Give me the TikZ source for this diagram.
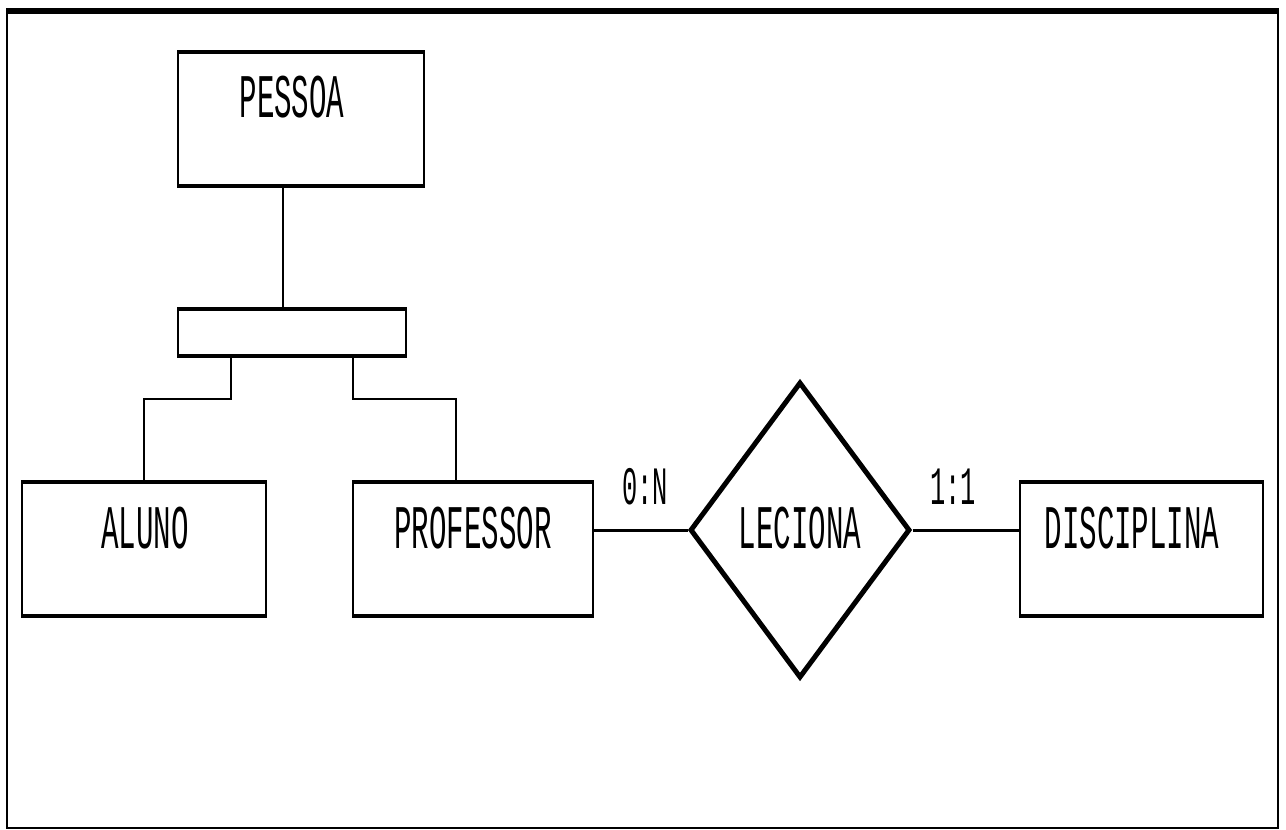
\documentclass[tikz,border=0pt]{standalone}
\usepackage{fontspec}
\newfontfamily\pixfont{Liberation Mono}
\usetikzlibrary{shapes.geometric,calc}
\tikzset{
  ent/.style={draw, line width=2pt, inner sep=0pt},
  lab/.style={inner sep=0pt, font=\pixfont\fontsize{62}{62}\selectfont},
  card/.style={inner sep=0pt, font=\pixfont\fontsize{54}{54}\selectfont},
  conn/.style={line width=2pt},
  relconn/.style={line width=3pt},
}
\newcommand{\nar}[1]{\scalebox{0.47}[1]{#1}}
\begin{document}
\begin{tikzpicture}[x=1pt,y=-1pt]
\useasboundingbox (0,0) rectangle (1286,830);
% frame
\draw[line width=6pt] (6,11) -- (1279,11);
\draw[line width=2.5pt] (7,11) -- (7,828) -- (1278,828) -- (1278,11);
% entities
\node[ent, minimum width=246pt, minimum height=132pt] (pessoa) at (301,119) {};
\node[ent, minimum width=228pt, minimum height=45pt] (gen) at (292,332.5) {};
\node[ent, minimum width=244pt, minimum height=132pt] (aluno) at (144,549) {};
\node[ent, minimum width=240pt, minimum height=132pt] (professor) at (473,549) {};
\node[ent, minimum width=243pt, minimum height=132pt] (disciplina) at (1141.5,549) {};
\foreach \n in {pessoa,gen,aluno,professor,disciplina}
  \draw[line width=4.5pt] (\n.north west) -- (\n.north east) (\n.south west) -- (\n.south east);
% texts
\node[lab] (pessoat) at (292,97) {\nar{PESSOA}};
\node[lab] (alunot) at (145,528) {\nar{ALUNO}};
\node[lab] (professort) at (473,528) {\nar{PROFESSOR}};
\node[lab] (disciplinat) at (1132,528) {\nar{DISCIPLINA}};
% relationship
\node[diamond, draw, line width=5pt, minimum width=220pt, minimum height=296pt, inner sep=0pt] (rel) at (800,530) {};
\node[lab] (relt) at (800,528) {\nar{LECIONA}};
\node[card] (c1) at (645,487) {\nar{0:N}};
\node[card] (c2) at (953,487) {\nar{1:1}};
% connectors
\draw[conn] ([xshift=-18pt]pessoa.south) -- ([xshift=-18pt]pessoa.south |- gen.north);
\draw[conn] ([xshift=-61pt]gen.south) -- ++(0,43) -| (aluno.north);
\draw[conn] ([xshift=61pt]gen.south) -- ++(0,43) -| ([xshift=-17pt]professor.north);
\draw[relconn] (rel.west) -- (rel.west -| professor.east);
\draw[relconn] (rel.east) -- (rel.east -| disciplina.west);
\end{tikzpicture}
\end{document}
